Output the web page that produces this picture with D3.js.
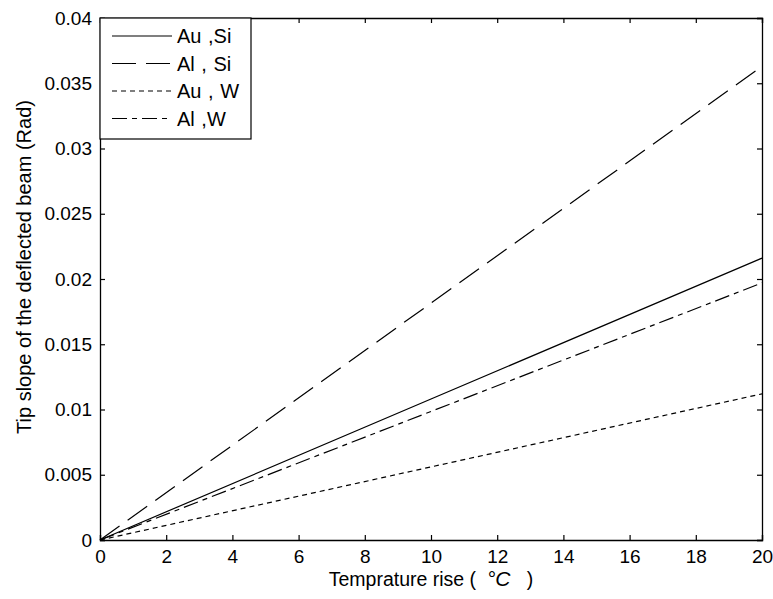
<!DOCTYPE html>
<html>
<head>
<meta charset="utf-8">
<script src="https://d3js.org/d3.v7.min.js"></script>
<style>
  body { margin: 0; background: #fff; }
  text { font-family: "Liberation Sans", Arial, sans-serif; fill: #000; }
</style>
</head>
<body>
<div id="chart"></div>
<script>
// temperature rise (°C)
const tempRise = [0, 10, 20];

// tip slope (rad)
const auSi = [0, 0.0108, 0.0216];
const alSi = [0, 0.01815, 0.0363];
const auW  = [0, 0.0056, 0.0112];
const alW  = [0, 0.00985, 0.0197];

const seriesNames = ["Au ,Si", "Al , Si", "Au , W", "Al ,W"];
const seriesDash = [null, "24,10", "5,4", "15,5,5,5"];
const seriesValues = [auSi, alSi, auW, alW];

const xTicks = d3.range(0, 21, 2);
const yTicks = [0, 0.005, 0.01, 0.015, 0.02, 0.025, 0.03, 0.035, 0.04];
const yTickLabels = ["0", "0.005", "0.01", "0.015", "0.02", "0.025", "0.03", "0.035", "0.04"];

const width = 773, height = 599;
const margin = {top: 18, right: 11, bottom: 59, left: 100};
const iw = width - margin.left - margin.right;
const ih = height - margin.top - margin.bottom;

const svg = d3.select("#chart").append("svg")
    .attr("width", width)
    .attr("height", height);

const g = svg.append("g")
    .attr("transform", `translate(${margin.left},${margin.top})`);

const x = d3.scaleLinear().domain([0, 20]).range([0, iw]);
const y = d3.scaleLinear().domain([0, 0.04]).range([ih, 0]);

// axes with inward ticks, mirrored on top/right
const fmt = (d, i) => yTickLabels[i];
const tickLen = 5;

const xb = g.append("g").attr("transform", `translate(0,${ih})`)
    .call(d3.axisBottom(x).tickValues(xTicks).tickSize(-tickLen).tickPadding(10));
const xt = g.append("g")
    .call(d3.axisTop(x).tickValues(xTicks).tickSize(-tickLen).tickFormat(""));
const yl = g.append("g")
    .call(d3.axisLeft(y).tickValues(yTicks).tickSize(-tickLen).tickPadding(8).tickFormat(fmt));
const yr = g.append("g").attr("transform", `translate(${iw},0)`)
    .call(d3.axisRight(y).tickValues(yTicks).tickSize(-tickLen).tickFormat(""));

[xb, xt, yl, yr].forEach(a => {
  a.select(".domain").attr("stroke", "#000").attr("stroke-width", 1.3);
  a.selectAll(".tick line").attr("stroke", "#000").attr("stroke-width", 1.2);
  a.selectAll(".tick text")
    .style("font-family", "'Liberation Sans', Arial, sans-serif")
    .style("font-size", "19px")
    .attr("fill", "#000");
});

// lines
const line = d3.line()
    .x((d, i) => x(tempRise[i]))
    .y(d => y(d));

seriesValues.forEach((vals, k) => {
  g.append("path")
    .datum(vals)
    .attr("d", line)
    .attr("fill", "none")
    .attr("stroke", "#000")
    .attr("stroke-width", 1.2)
    .attr("stroke-dasharray", seriesDash[k]);
});

// legend
const lg = g.append("g");
lg.append("rect")
    .attr("x", 0).attr("y", 0)
    .attr("width", 151).attr("height", 121)
    .attr("fill", "#fff")
    .attr("stroke", "#000")
    .attr("stroke-width", 1.2);

seriesNames.forEach((name, k) => {
  const ly = 18 + k * 27.5;
  lg.append("line")
    .attr("x1", 12).attr("x2", 72)
    .attr("y1", ly).attr("y2", ly)
    .attr("stroke", "#000")
    .attr("stroke-width", 1.2)
    .attr("stroke-dasharray", seriesDash[k]);
  lg.append("text")
    .attr("x", 77).attr("y", ly)
    .attr("dy", "0.35em")
    .style("font-size", "20px")
    .style("word-spacing", "1px")
    .text(name);
});

// axis labels
const xlab = svg.append("text")
    .attr("x", margin.left + iw / 2)
    .attr("y", 586)
    .attr("text-anchor", "middle")
    .style("font-size", "19.5px");
xlab.append("tspan").text("Temprature rise (\u00a0 ");
xlab.append("tspan").style("font-style", "italic").style("font-size", "21px").text("°C");
xlab.append("tspan").text("\u00a0\u00a0\u00a0)");

svg.append("text")
    .attr("transform", `translate(31,${margin.top + ih / 2 - 12}) rotate(-90)`)
    .attr("text-anchor", "middle")
    .style("font-size", "20px")
    .text("Tip slope of the deflected beam (Rad)");
</script>
</body>
</html>
